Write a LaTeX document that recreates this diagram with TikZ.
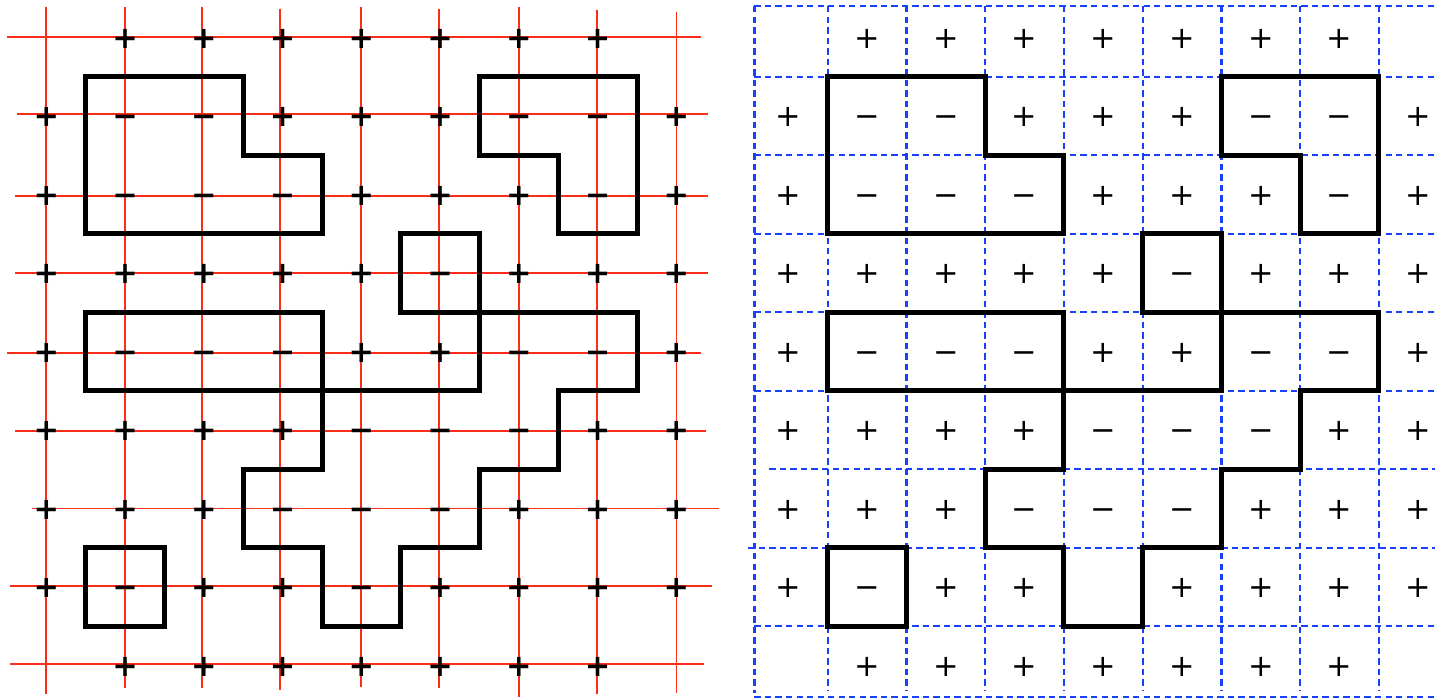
\documentclass[tikz,border=0pt]{standalone}
\usepackage{fontspec}
\usepackage{tikz}
\usetikzlibrary{calc}
\newfontfamily\signfont{DejaVu Sans}
\definecolor{gridred}{RGB}{250,45,25}
\definecolor{gridblue}{RGB}{25,65,250}

\def\leftsigns{0/{{},+,+,+,+,+,+,+,{}},1/{+,−,−,+,+,+,−,−,+},2/{+,−,−,−,+,+,+,−,+},
  3/{+,+,+,+,+,−,+,+,+},4/{+,−,−,−,+,+,−,−,+},5/{+,+,+,+,−,−,−,+,+},
  6/{+,+,+,−,−,−,+,+,+},7/{+,−,+,+,−,+,+,+,+},8/{{},+,+,+,+,+,+,+,{}}}
\def\rightsigns{0/{{},+,+,+,+,+,+,+,{}},1/{+,−,−,+,+,+,−,−,+},2/{+,−,−,−,+,+,+,−,+},
  3/{+,+,+,+,+,−,+,+,+},4/{+,−,−,−,+,+,−,−,+},5/{+,+,+,+,−,−,−,+,+},
  6/{+,+,+,−,−,−,+,+,+},7/{+,−,+,+,{},+,+,+,+},8/{{},+,+,+,+,+,+,+,{}}}

\newcommand{\drawwalls}{%
  \draw[wall] (0.5,0.5) -- (2.5,0.5) -- (2.5,1.5) -- (3.5,1.5) -- (3.5,2.5) -- (0.5,2.5) -- cycle;
  \draw[wall] (5.5,0.5) -- (7.5,0.5) -- (7.5,2.5) -- (6.5,2.5) -- (6.5,1.5) -- (5.5,1.5) -- cycle;
  \draw[wall] (4.5,2.5) rectangle (5.5,3.5);
  \draw[wall] (0.5,3.5) rectangle (3.5,4.5);
  \draw[wall] (5.5,3.5) -- (7.5,3.5) -- (7.5,4.5) -- (6.5,4.5) -- (6.5,5.5) -- (5.5,5.5)
    -- (5.5,6.5) -- (4.5,6.5) -- (4.5,7.5) -- (3.5,7.5) -- (3.5,6.5) -- (2.5,6.5)
    -- (2.5,5.5) -- (3.5,5.5) -- (3.5,4.5) -- (5.5,4.5) -- cycle;
  \draw[wall] (0.5,6.5) rectangle (1.5,7.5);
}

\begin{document}
\begin{tikzpicture}[x=1cm,y=-0.9968cm,
  wall/.style={line width=1.8pt,black},
  redline/.style={gridred,line width=0.7pt},
  blueline/.style={gridblue,line width=0.8pt,dash pattern=on 2.3pt off 1.5pt},
  sgn/.style={inner sep=0pt,text height=0.78em,text depth=0pt,
    font=\signfont\fontsize{11}{13}\selectfont}]
\useasboundingbox (-0.59,-0.478) rectangle (17.632,8.414);
\begin{scope}
\foreach \x/\a/\b in {0/-0.39/8.36,1/-0.39/8.29,1.98/-0.39/8.29,2.96/-0.36/8.31,3.99/-0.39/8.27,
   4.98/-0.36/8.29,6/-0.39/8.40,6.99/-0.35/8.36,8/-0.32/8.35}
   \draw[redline] (\x,\a) -- (\x,\b);
\foreach \y/\a/\b in {-0.01/-0.50/8.31,0.98/-0.37/8.40,2.02/-0.40/8.40,3/-0.40/8.40,4.02/-0.50/8.31,
   5.01/-0.40/8.37,6/-0.18/8.54,6.99/-0.46/8.45,7.98/-0.46/8.35}
   \draw[redline] (\a,\y) -- (\b,\y);
\foreach \j/\row in \leftsigns{
   \foreach \s [count=\i from 0] in \row
      \node[sgn,font=\signfont\bfseries\fontsize{11}{13}\selectfont] (l-\i-\j) at (\i,\j) {\s};
}
\drawwalls
\end{scope}
\begin{scope}[xshift=9.42cm]
\foreach \x/\b in {-0.43/8.35,0.5/8.31,1.5/8.31,2.5/8.31,3.5/8.31,4.5/8.31,5.5/8.31,6.5/8.31,7.5/8.31}
   \draw[blueline] (\x,-0.40) -- (\x,\b);
\foreach \y/\a in {-0.40/-0.43,0.5/-0.43,1.5/-0.43,2.5/-0.43,3.5/-0.43,4.5/-0.43,
   5.5/-0.24,6.5/-0.51,7.5/-0.43,8.40/-0.43}
   \draw[blueline] (\a,\y) -- (8.3,\y);
\foreach \j/\row in \rightsigns{
   \foreach \s [count=\i from 0] in \row
      \node[sgn] (r-\i-\j) at (\i,\j) {\s};
}
\drawwalls
\end{scope}
\end{tikzpicture}
\end{document}
